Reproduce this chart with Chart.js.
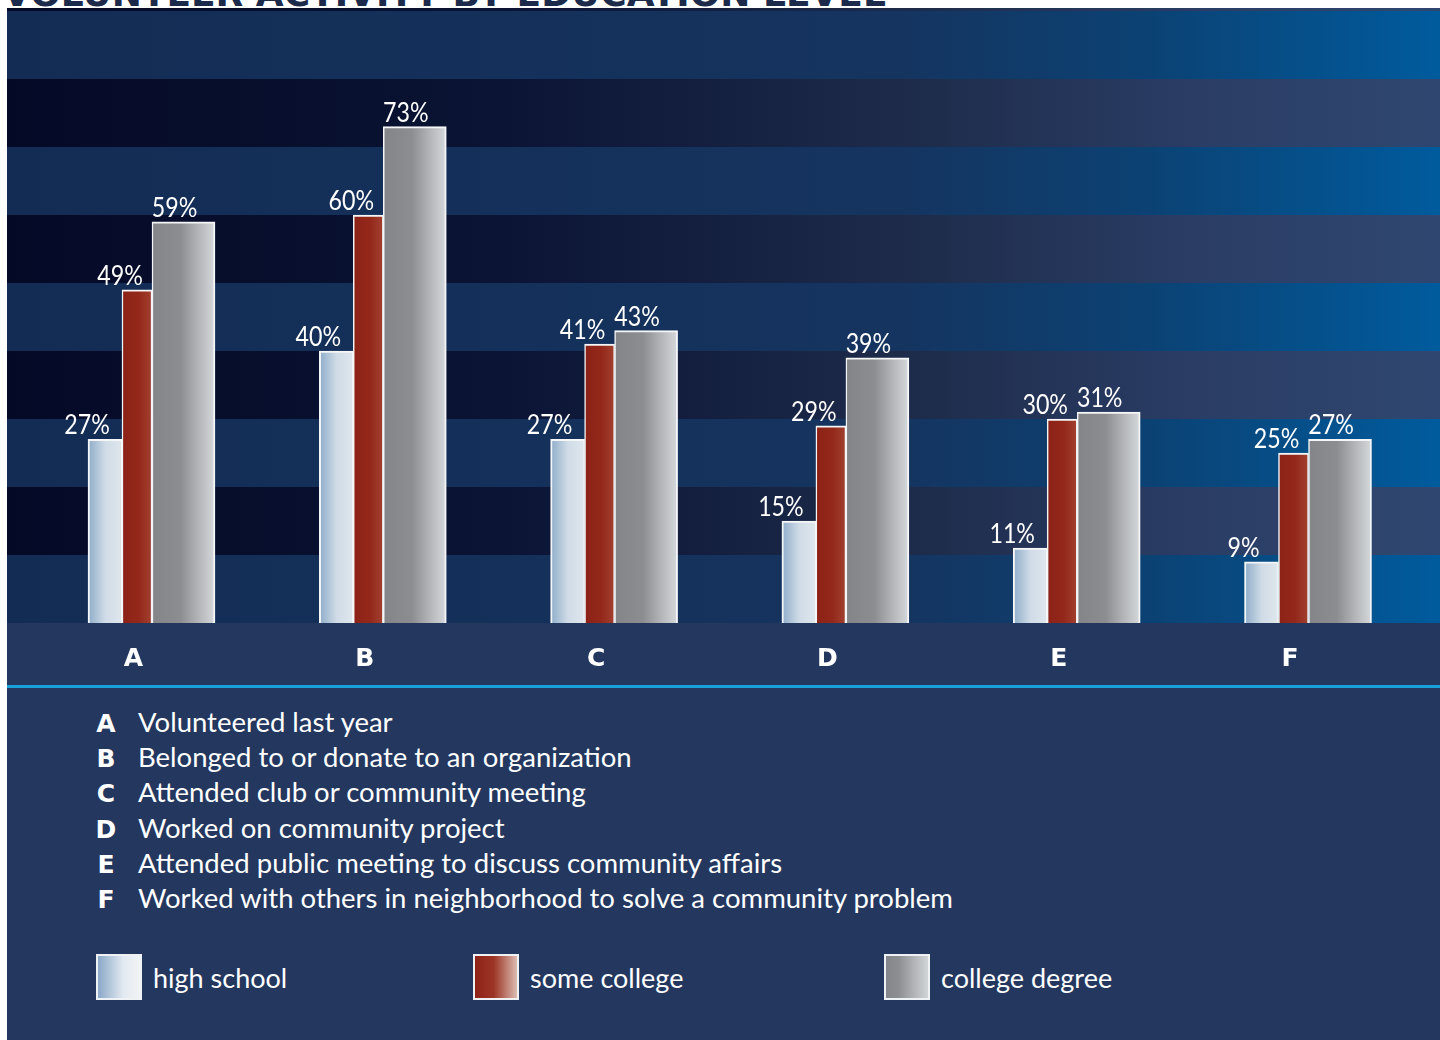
<!DOCTYPE html>
<html>
<head>
<meta charset="utf-8">
<script src="https://cdn.jsdelivr.net/npm/chart.js@4.4.1/dist/chart.umd.min.js"></script>
<style>
  body { margin:0; width:1440px; height:1040px; background:#fff; position:relative; overflow:hidden; font-family:Lato, sans-serif; }
  #titulo { position:absolute; left:3px; top:-24px; font:bold 36px/36px "DejaVu Sans"; color:#1c2b4b; white-space:nowrap; }
  #panel { position:absolute; left:7px; top:8px; width:1433px; height:1032px; background:#23375f; }
  #grafica { position:absolute; left:0; top:0; }
  #linea { position:absolute; left:0; top:677px; width:1433px; height:3px; background:#17a0da; }
  #lista { position:absolute; left:86px; top:696px; color:#fff; font-size:27.5px; line-height:35.2px; white-space:nowrap; }
  .letra { display:inline-block; width:26px; margin-right:19px; text-align:center; font:bold 25px "DejaVu Sans"; }
  .serie { position:absolute; top:946px; display:flex; align-items:center; color:#fff; font-size:27px; }
  .caja { width:46px; height:46px; box-sizing:border-box; border:2px solid #eef2f5; margin-right:11px; }
</style>
</head>
<body>
<div id="titulo">VOLUNTEER ACTIVITY BY EDUCATION LEVEL</div>
<div id="panel">
  <canvas id="grafica" width="1433" height="678"></canvas>
  <div id="linea"></div>
  <div id="lista"></div>
</div>
<script>
// datos
var categorias = ['A', 'B', 'C', 'D', 'E', 'F'];
var descripciones = [
  'Volunteered last year',
  'Belonged to or donate to an organization',
  'Attended club or community meeting',
  'Worked on community project',
  'Attended public meeting to discuss community affairs',
  'Worked with others in neighborhood to solve a community problem'
];
var series = ['high school', 'some college', 'college degree'];
var highSchool = [27, 40, 27, 15, 11, 9];
var someCollege = [49, 60, 41, 29, 30, 25];
var collegeDegree = [59, 73, 43, 39, 31, 27];

// estilo / posicion
var yTop = 90.44;                          // tope del area en %
var anchos = [34, 30, 63];                 // ancho de cada barra (px)
var desplaz = [-0.1232, 0.0151, 0.2162];   // centro de la barra respecto a la letra
var corrEtiq = [-18, -17, -9];             // las etiquetas van un poco a la izquierda
var colBarras = [
  [[0, '#8eacc9'], [0.5, '#cfdbe6'], [1, '#e0e7ee']],
  [[0, '#8c2217'], [0.55, '#93281a'], [1, '#a2412f']],
  [[0, '#848588'], [0.45, '#8c8d90'], [1, '#d6d9dc']]
];
var colCajas = [
  'linear-gradient(to right, #8aa8c8, #e2e9f0 60%, #f2f4f6)',
  'linear-gradient(to right, #8e2217, #9c3526 45%, #dcbcb2)',
  'linear-gradient(to right, #858689, #8d8e91 30%, #d2d5d8)'
];
var posCajas = [89, 466, 877];

// lista de descripciones y leyenda en html
var lista = document.getElementById('lista');
categorias.forEach(function(c, i) {
  var d = document.createElement('div');
  d.innerHTML = '<span class="letra">' + c + '</span>' + descripciones[i];
  lista.appendChild(d);
});
var panel = document.getElementById('panel');
series.forEach(function(s, i) {
  var d = document.createElement('div');
  d.className = 'serie';
  d.style.left = posCajas[i] + 'px';
  d.innerHTML = '<div class="caja" style="background:' + colCajas[i] + '"></div>' + s;
  panel.appendChild(d);
});

function degradado(i) {
  return function(c) {
    var xs = c.chart.scales.x;
    if (c.type !== 'data' || !xs) return colBarras[i][0][1];
    var px = xs.getPixelForValue(c.raw.x);
    if (!isFinite(px)) return colBarras[i][0][1];
    var g = c.chart.ctx.createLinearGradient(px - anchos[i] / 2, 0, px + anchos[i] / 2, 0);
    colBarras[i].forEach(function(s) { g.addColorStop(s[0], s[1]); });
    return g;
  };
}

// franjas horizontales cada 10%
var franjas = {
  id: 'franjas',
  beforeDatasetsDraw: function(chart) {
    var a = chart.chartArea, ys = chart.scales.y, ctx = chart.ctx;
    var claro = ctx.createLinearGradient(a.left, 0, a.right, 0);
    claro.addColorStop(0, '#132c54');
    claro.addColorStop(0.62, '#15345f');
    claro.addColorStop(0.8, '#0b4274');
    claro.addColorStop(1, '#005b9d');
    var oscuro = ctx.createLinearGradient(a.left, 0, a.right, 0);
    oscuro.addColorStop(0, '#040926');
    oscuro.addColorStop(0.35, '#0b1434');
    oscuro.addColorStop(0.65, '#1f2d4d');
    oscuro.addColorStop(0.82, '#2a3c64');
    oscuro.addColorStop(1, '#2f4770');
    ctx.save();
    for (var v = 0; v < yTop; v += 10) {
      var y1 = ys.getPixelForValue(v), y2 = ys.getPixelForValue(Math.min(v + 10, yTop));
      ctx.fillStyle = (v / 10) % 2 ? oscuro : claro;
      ctx.fillRect(a.left, y2, a.right - a.left, y1 - y2);
    }
    ctx.restore();
  }
};

// etiquetas de porcentaje (letra un poco estrecha, como en el original)
var etiquetas = {
  id: 'etiquetas',
  afterDatasetsDraw: function(chart) {
    var ctx = chart.ctx;
    chart.data.datasets.forEach(function(ds, i) {
      chart.getDatasetMeta(i).data.forEach(function(bar, j) {
        ctx.save();
        ctx.fillStyle = '#ffffff';
        ctx.font = '27px Lato';
        ctx.textAlign = 'center';
        ctx.textBaseline = 'alphabetic';
        ctx.translate(bar.x + corrEtiq[i], bar.y - 5);
        ctx.scale(0.86, 1);
        ctx.fillText(ds.data[j].y + '%', 0, 0);
        ctx.restore();
      });
    });
  }
};

var valores = [highSchool, someCollege, collegeDegree];
var datasets = valores.map(function(vals, i) {
  return {
    label: series[i],
    data: vals.map(function(v, j) { return { x: j + desplaz[i], y: v }; }),
    backgroundColor: degradado(i),
    borderColor: '#f4f6f8',
    borderWidth: { top: 2, left: i === 0 ? 2 : 1.5, right: i === 2 ? 2 : 1.5, bottom: 0 },
    borderSkipped: false,
    barThickness: anchos[i],
    grouped: false
  };
});

var ctx = document.getElementById('grafica').getContext('2d');
var grafica = new Chart(ctx, {
  type: 'bar',
  data: { datasets: datasets },
  plugins: [franjas, etiquetas],
  options: {
    responsive: false,
    animation: false,
    layout: { padding: 0 },
    plugins: { legend: { display: false }, tooltip: { enabled: false } },
    scales: {
      x: {
        type: 'linear',
        offset: false,
        min: -0.5469,
        max: 5.6485,
        grid: { display: false },
        border: { display: false },
        ticks: {
          stepSize: 1,
          includeBounds: false,
          autoSkip: false,
          maxRotation: 0,
          padding: 13,
          color: '#ffffff',
          font: { family: 'DejaVu Sans', weight: 'bold', size: 25 },
          callback: function(v) { return categorias[v] !== undefined ? categorias[v] : ''; }
        },
        afterFit: function(scale) { scale.height = 63; }
      },
      y: { display: false, min: 0, max: yTop }
    }
  }
});
</script>
</body>
</html>
